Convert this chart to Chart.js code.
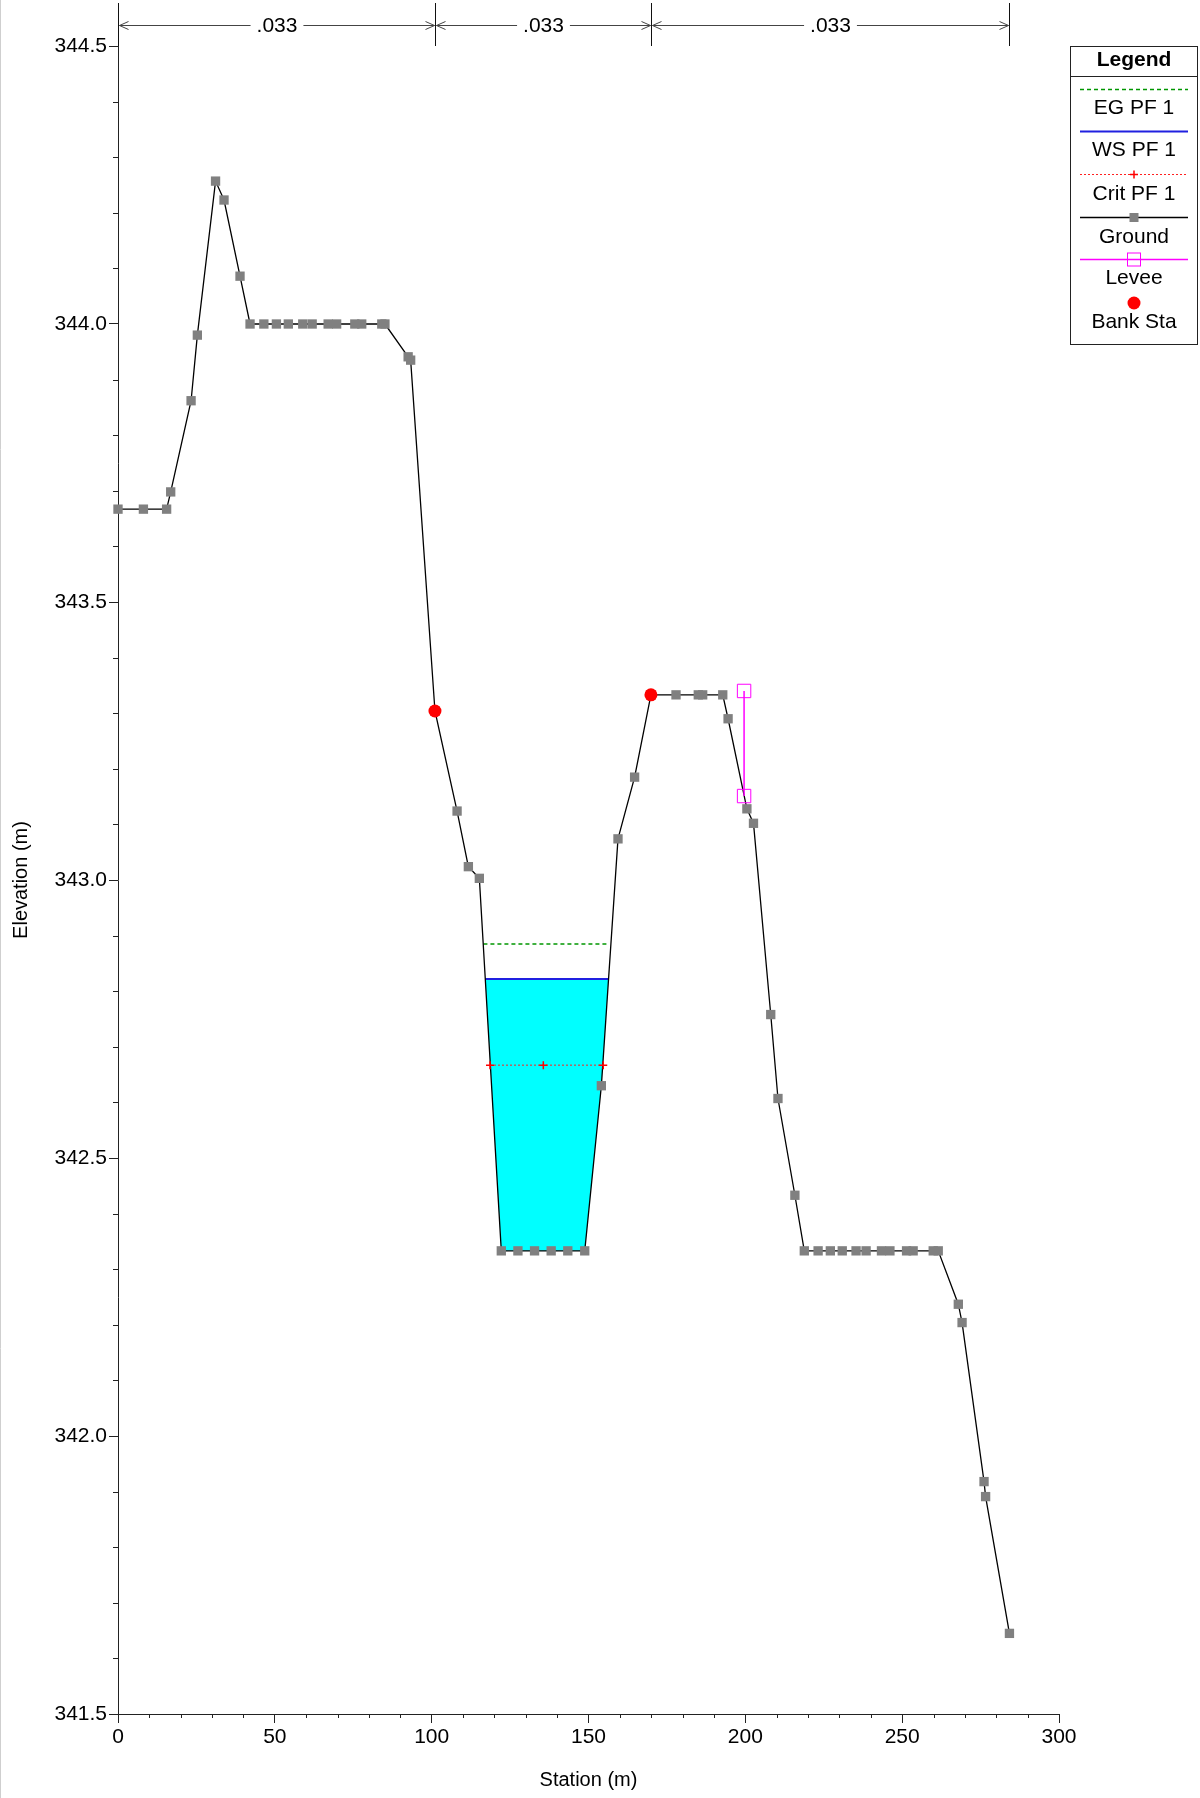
<!DOCTYPE html>
<html>
<head>
<meta charset="utf-8">
<script src="https://cdn.jsdelivr.net/npm/chart.js"></script>
<style>
  body { margin: 0; background: #fff; }
  canvas { display: block; }
</style>
</head>
<body>
<canvas id="xsChart" width="1200" height="1798"></canvas>
<script>
// ground profile (station m / elevation m)
const groundStation = [0, 8.1, 15.5, 16.8, 23.3, 25.3, 31.1, 33.8, 38.9,
    42.1, 46.5, 50.5, 54.3, 58.9, 61.9, 67.0, 69.7, 75.5, 77.7, 84.1, 85.1,
    92.5, 93.3, 101.05, 108.1, 111.7, 115.2,
    122.2, 127.5, 132.8, 138.1, 143.4, 148.8, 154.1, 159.4, 164.7,
    169.9, 177.9, 185.0, 186.4, 192.8, 194.5, 200.5, 202.6, 208.1, 210.4, 215.8,
    218.8, 223.2, 227.1, 230.9, 235.3, 238.5, 243.4, 246.1, 251.4, 253.5, 259.9, 261.5,
    267.9, 269.1, 276.1, 276.6, 284.2];
const groundElev = [343.667, 343.667, 343.667, 343.698, 343.862, 343.980, 344.257, 344.223, 344.086,
    344.0, 344.0, 344.0, 344.0, 344.0, 344.0, 344.0, 344.0, 344.0, 344.0, 344.0, 344.0,
    343.941, 343.935, 343.304, 343.124, 343.024, 343.003,
    342.333, 342.333, 342.333, 342.333, 342.333, 342.333, 342.630, 343.074, 343.185,
    343.333, 343.333, 343.333, 343.333, 343.333, 343.290, 343.128, 343.102, 342.758, 342.607, 342.433,
    342.333, 342.333, 342.333, 342.333, 342.333, 342.333, 342.333, 342.333, 342.333, 342.333, 342.333, 342.333,
    342.237, 342.204, 341.918, 341.891, 341.645];

// water surfaces
const egStation = [116.5, 156.6];
const egElev = [342.885, 342.885];
const wsStation = [117.1, 156.4];
const wsElev = [342.822, 342.822];
const critStation = [118.6, 135.6, 154.7];
const critElev = [342.667, 342.667, 342.667];

// levee and bank stations
const leveeStation = [199.6, 199.6];
const leveeElev = [343.340, 343.151];
const bankStation = [101.05, 169.9];
const bankElev = [343.304, 343.333];

// manning's n along the top
const nBreaks = [0, 101.05, 169.9, 284.2];
const nValues = ['.033', '.033', '.033'];

const legendNames = ['EG PF 1', 'WS PF 1', 'Crit PF 1', 'Ground', 'Levee', 'Bank Sta'];

const FONT = '"Liberation Sans", Arial, Helvetica, sans-serif';

const pts = (xs, ys) => xs.map((s, i) => ({ x: s, y: ys[i] }));

// water polygon: ws edge, ground below ws, other ws edge
const waterPts = [{ x: wsStation[0], y: wsElev[0] }]
    .concat(pts(groundStation, groundElev).filter(p => p.x > wsStation[0] && p.x < wsStation[1] && p.y < wsElev[0]))
    .concat([{ x: wsStation[1], y: wsElev[1] }]);

const overlay = {
    id: 'overlay',
    afterDraw(chart) {
        const { ctx, chartArea } = chart;
        const x = chart.scales.x;
        const y = chart.scales.y;
        ctx.save();

        // page edge
        ctx.strokeStyle = '#cfcfcf';
        ctx.lineWidth = 1;
        ctx.beginPath();
        ctx.moveTo(0.5, 0);
        ctx.lineTo(0.5, chart.height);
        ctx.stroke();

        // minor ticks
        ctx.strokeStyle = '#222';
        ctx.beginPath();
        for (let i = 1; i < 30; i++) {
            if (i % 5 === 0) continue;
            const py = Math.round(y.getPixelForValue(341.5 + i * 0.1)) + 0.5;
            ctx.moveTo(chartArea.left - 5, py);
            ctx.lineTo(chartArea.left, py);
        }
        for (let v = 10; v < 300; v += 10) {
            if (v % 50 === 0) continue;
            const px = Math.round(x.getPixelForValue(v)) + 0.5;
            ctx.moveTo(px, chartArea.bottom);
            ctx.lineTo(px, chartArea.bottom + 4);
        }
        ctx.stroke();

        // n values bar
        const barY = 25.5;
        const xs = nBreaks.map(s => Math.round(x.getPixelForValue(s)) + 0.5);
        ctx.font = '21px ' + FONT;
        ctx.textAlign = 'center';
        ctx.textBaseline = 'middle';
        ctx.fillStyle = '#000';
        ctx.strokeStyle = '#111';
        ctx.beginPath();
        xs.forEach(px => {
            ctx.moveTo(px, 3);
            ctx.lineTo(px, chartArea.top);
        });
        ctx.stroke();
        ctx.strokeStyle = '#444';
        for (let i = 0; i < nValues.length; i++) {
            const a = xs[i], b = xs[i + 1];
            const mid = (a + b) / 2;
            const gap = ctx.measureText(nValues[i]).width / 2 + 6;
            ctx.beginPath();
            ctx.moveTo(a + 1, barY);
            ctx.lineTo(mid - gap, barY);
            ctx.moveTo(mid + gap, barY);
            ctx.lineTo(b - 1, barY);
            ctx.moveTo(a + 10, barY - 4);
            ctx.lineTo(a + 1, barY);
            ctx.lineTo(a + 10, barY + 4);
            ctx.moveTo(b - 10, barY - 4);
            ctx.lineTo(b - 1, barY);
            ctx.lineTo(b - 10, barY + 4);
            ctx.stroke();
            ctx.fillText(nValues[i], mid, barY + 1);
        }

        // legend box
        const lx = 1070.5, ly = 46.5, lw = 127, lh = 298;
        const cx = lx + lw / 2;
        const l0 = 1080, l1 = 1188;
        ctx.strokeStyle = '#222';
        ctx.lineWidth = 1;
        ctx.strokeRect(lx, ly, lw, lh);
        ctx.beginPath();
        ctx.moveTo(lx, 76.5);
        ctx.lineTo(lx + lw, 76.5);
        ctx.stroke();
        ctx.font = 'bold 21px ' + FONT;
        ctx.fillText('Legend', cx, 60);

        const symY = [89.5, 131.5, 174.5, 217.5, 259.5, 303];
        const labY = [108.5, 150.5, 194.5, 237.5, 278.5, 322.5];
        const line = (yy, color, width, dash) => {
            ctx.save();
            ctx.strokeStyle = color;
            ctx.lineWidth = width;
            ctx.setLineDash(dash);
            ctx.beginPath();
            ctx.moveTo(l0, yy);
            ctx.lineTo(l1, yy);
            ctx.stroke();
            ctx.restore();
        };
        line(symY[0], 'rgb(0,150,0)', 1.5, [4, 3]);
        line(symY[1], '#2020e0', 2, []);
        line(symY[2], '#ff2020', 1, [2, 2]);
        ctx.strokeStyle = '#ff0000';
        ctx.lineWidth = 1.5;
        ctx.beginPath();
        ctx.moveTo(cx - 4, symY[2]); ctx.lineTo(cx + 4, symY[2]);
        ctx.moveTo(cx, symY[2] - 4); ctx.lineTo(cx, symY[2] + 4);
        ctx.stroke();
        line(symY[3], '#000', 1.3, []);
        ctx.fillStyle = '#808080';
        ctx.fillRect(cx - 4.5, symY[3] - 4.5, 9, 9);
        line(symY[4], '#ff00ff', 1.5, []);
        ctx.strokeStyle = '#ff00ff';
        ctx.lineWidth = 1;
        ctx.strokeRect(cx - 6.5, symY[4] - 6.5, 13, 13);
        ctx.fillStyle = '#ff0000';
        ctx.beginPath();
        ctx.arc(cx, symY[5], 6.5, 0, Math.PI * 2);
        ctx.fill();

        ctx.fillStyle = '#000';
        ctx.font = '21px ' + FONT;
        legendNames.forEach((name, i) => ctx.fillText(name, cx, labY[i]));

        ctx.restore();
    }
};

Chart.defaults.font.family = FONT;
Chart.defaults.color = '#000';

new Chart(document.getElementById('xsChart'), {
    type: 'line',
    data: {
        datasets: [
            {
                label: 'Bank Sta',
                data: pts(bankStation, bankElev),
                showLine: false,
                pointStyle: 'circle',
                pointRadius: 6.5,
                pointBackgroundColor: '#ff0000',
                pointBorderWidth: 0,
                order: 0
            },
            {
                label: 'Levee',
                data: pts(leveeStation, leveeElev),
                borderColor: '#ff00ff',
                borderWidth: 1.5,
                pointStyle: 'rect',
                pointRadius: 9.5,
                pointBackgroundColor: 'rgba(0,0,0,0)',
                pointBorderColor: '#ff00ff',
                pointBorderWidth: 1,
                order: 1
            },
            {
                label: 'Crit PF 1',
                data: pts(critStation, critElev),
                borderColor: '#ff2020',
                borderWidth: 1,
                borderDash: [2, 2],
                pointStyle: 'cross',
                pointRadius: 4,
                pointBorderColor: '#ff0000',
                pointBorderWidth: 1.5,
                order: 2
            },
            {
                label: 'Ground',
                data: pts(groundStation, groundElev),
                borderColor: '#000',
                borderWidth: 1.3,
                pointStyle: 'rect',
                pointRadius: 6.6,
                pointBackgroundColor: '#808080',
                pointBorderWidth: 0,
                order: 3
            },
            {
                label: 'WS PF 1',
                data: pts(wsStation, wsElev),
                borderColor: '#2020e0',
                borderWidth: 2,
                pointRadius: 0,
                order: 4
            },
            {
                label: 'EG PF 1',
                data: pts(egStation, egElev),
                borderColor: 'rgb(0,150,0)',
                borderWidth: 1.5,
                borderDash: [4, 3],
                pointRadius: 0,
                order: 5
            },
            {
                label: 'water',
                data: waterPts,
                borderWidth: 0,
                borderColor: 'rgba(0,0,0,0)',
                backgroundColor: '#00ffff',
                fill: 'shape',
                pointRadius: 0,
                order: 6
            }
        ]
    },
    options: {
        responsive: false,
        animation: false,
        devicePixelRatio: 1,
        events: [],
        clip: false,
        elements: { line: { tension: 0 } },
        layout: { padding: { left: 0, top: 46, right: 141, bottom: 0 } },
        plugins: {
            legend: { display: false },
            tooltip: { enabled: false }
        },
        scales: {
            x: {
                type: 'linear',
                min: 0,
                max: 300,
                border: { color: '#222', width: 1 },
                grid: { drawOnChartArea: false, tickLength: 9, tickColor: '#222' },
                ticks: { stepSize: 50, padding: 2, maxRotation: 0, font: { size: 21 }, color: '#000' },
                title: { display: true, text: 'Station (m)', font: { size: 20 }, color: '#000', padding: { top: 0, bottom: 6 } },
                afterFit(s) {
                    s.height = 84;
                    s.paddingLeft = 0;
                    s.paddingRight = 0;
                }
            },
            y: {
                type: 'linear',
                min: 341.5,
                max: 344.5,
                border: { color: '#222', width: 1 },
                grid: { drawOnChartArea: false, tickLength: 9, tickColor: '#222' },
                ticks: { stepSize: 0.5, padding: 2, font: { size: 21 }, color: '#000', callback: v => v.toFixed(1) },
                title: { display: true, text: 'Elevation (m)', font: { size: 20 }, color: '#000', padding: { top: 9, bottom: 0 } },
                afterFit(s) {
                    s.width = 118;
                    s.paddingTop = 0;
                    s.paddingBottom = 0;
                }
            }
        }
    },
    plugins: [overlay]
});
</script>
</body>
</html>
